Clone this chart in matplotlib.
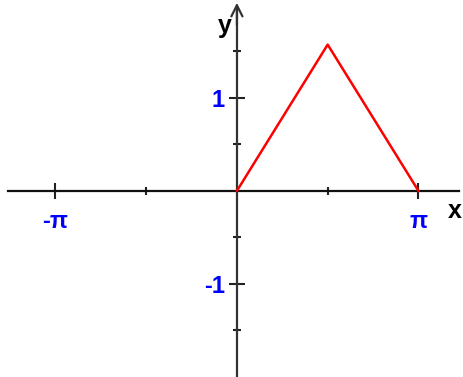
import numpy as np
import matplotlib.pyplot as plt
from matplotlib.ticker import FixedLocator

plt.rcParams["font.family"] = ["Liberation Sans", "DejaVu Sans"]

# triangle wave on [0, pi]
x_vals = [0, np.pi / 2, np.pi]
y_vals = [0, np.pi / 2, 0]

x_major = [-np.pi, np.pi]
x_major_labels = ["-π", "π"]
x_minor = [-np.pi / 2, np.pi / 2]
y_major = [-1, 1]
y_major_labels = ["-1", "1"]
y_minor = [-1.5, -0.5, 0.5, 1.5]

fig = plt.figure(figsize=(4.64, 3.77), dpi=100)
ax = fig.add_axes([0, 0, 1, 1])
ax.set_xlim(-4.10, 3.93)
ax.set_ylim(-2.0, 2.05)

ax.plot(x_vals, y_vals, color="red", lw=1.8, zorder=3)

for side in ["top", "right"]:
    ax.spines[side].set_visible(False)
ax.spines["left"].set_position(("data", 0))
ax.spines["bottom"].set_position(("data", 0))
ax.spines["bottom"].set_color("#111111")
ax.spines["left"].set_color("#333333")
ax.spines["bottom"].set_linewidth(1.6)
ax.spines["left"].set_linewidth(1.6)
ax.spines["bottom"].set_bounds(-3.97, 3.85)
ax.spines["left"].set_bounds(-2.0, 1.95)

ax.xaxis.set_major_locator(FixedLocator(x_major))
ax.xaxis.set_minor_locator(FixedLocator(x_minor))
ax.yaxis.set_major_locator(FixedLocator(y_major))
ax.yaxis.set_minor_locator(FixedLocator(y_minor))
ax.set_xticklabels(x_major_labels)
ax.set_yticklabels(y_major_labels)

ax.tick_params(which="major", direction="inout", length=11, width=1.5, color="#222222")
ax.tick_params(which="minor", direction="inout", length=5.5, width=1.5, color="#222222")
ax.tick_params(axis="x", which="major", pad=8, labelsize=17, labelcolor="blue")
ax.tick_params(axis="y", which="major", pad=3, labelsize=17, labelcolor="blue")
for lab in ax.get_xticklabels() + ax.get_yticklabels():
    lab.set_fontweight("bold")

# axis arrows
ax.annotate("", xy=(3.96, 0), xytext=(3.6, 0),
            arrowprops=dict(arrowstyle="->", color="#111111", lw=1.6,
                            mutation_scale=20))
ax.annotate("", xy=(0, 2.05), xytext=(0, 1.75),
            arrowprops=dict(arrowstyle="->", color="#333333", lw=1.6,
                            mutation_scale=20))

ax.text(3.77, -0.22, "x", fontsize=18, fontweight="bold", ha="center", va="center")
ax.text(-0.21, 1.77, "y", fontsize=18, fontweight="bold", ha="center", va="center")

fig.savefig("out.png", dpi=100)
